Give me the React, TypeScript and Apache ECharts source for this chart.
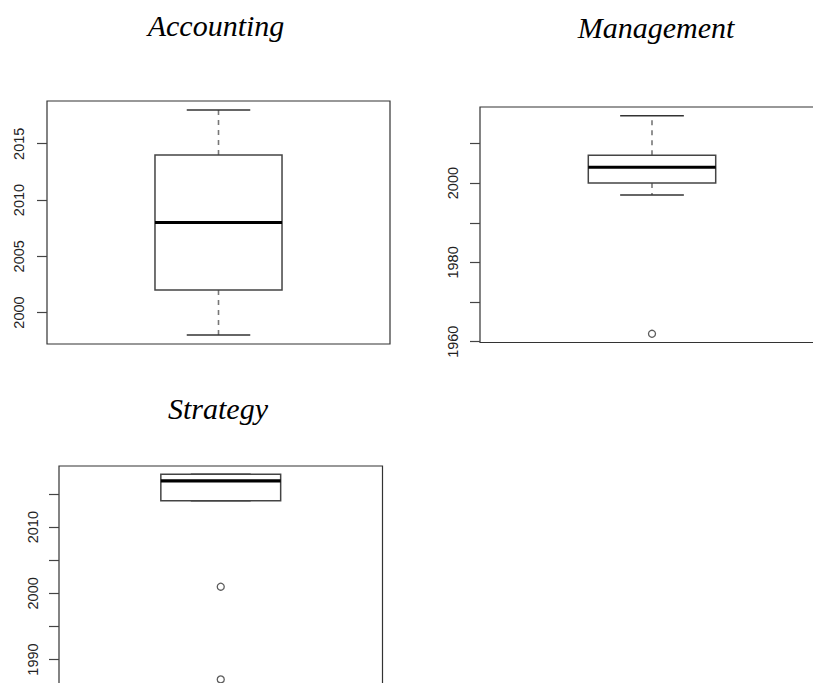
import React, { useEffect, useRef } from 'react';
import * as echarts from 'echarts';

// Panel titles
const panelTitles = ['Accounting', 'Management', 'Strategy'];

// Box statistics: [lower whisker, Q1, median, Q3, upper whisker]
const accountingStats = [1998, 2002, 2008, 2014, 2018];
const managementStats = [1997, 2000, 2004, 2007, 2017];
const strategyStats = [2014, 2014, 2017, 2018, 2018];

// Outliers
const accountingOutliers: number[] = [];
const managementOutliers = [1962];
const strategyOutliers = [2001, 1987];

// Tick marks and tick labels
const accountingTicks = [2000, 2005, 2010, 2015];
const accountingLabels = [2000, 2005, 2010, 2015];
const managementTicks = [1960, 1970, 1980, 1990, 2000, 2010];
const managementLabels = [1960, 1980, 2000];
const strategyTicks = [1990, 1995, 2000, 2005, 2010, 2015];
const strategyLabels = [1990, 2000, 2010];

const panels = [
  { title: panelTitles[0], stats: accountingStats, outliers: accountingOutliers, ticks: accountingTicks, labels: accountingLabels },
  { title: panelTitles[1], stats: managementStats, outliers: managementOutliers, ticks: managementTicks, labels: managementLabels },
  { title: panelTitles[2], stats: strategyStats, outliers: strategyOutliers, ticks: strategyTicks, labels: strategyLabels },
];

// Layout (pixels)
const layout = [
  { left: 47, top: 101, width: 343, height: 243, titleX: 216, titleY: 10, labelMargin: 21 },
  { left: 480, top: 107, width: 344, height: 235.5, titleX: 656, titleY: 12, labelMargin: 20 },
  { left: 59, top: 466, width: 323.5, height: 221.6, titleX: 218, titleY: 393, labelMargin: 19 },
];

export default function App() {
  const ref = useRef<HTMLDivElement>(null);
  useEffect(() => {
    if (!ref.current) return;
    const chart = echarts.init(ref.current, null, { renderer: 'svg' });

    const grids: any[] = [];
    const xAxes: any[] = [];
    const yAxes: any[] = [];
    const series: any[] = [];
    const graphics: any[] = [];

    panels.forEach((p, i) => {
      const L = layout[i];
      const all = [...p.stats, ...p.outliers];
      const lo = Math.min(...all);
      const hi = Math.max(...all);
      const ext = (hi - lo) * 0.04;
      grids.push({
        left: L.left,
        top: L.top,
        width: L.width,
        height: L.height,
        show: true,
        borderColor: '#333',
        borderWidth: 1.2,
        backgroundColor: 'transparent',
        containLabel: false,
      });
      xAxes.push({
        gridIndex: i,
        type: 'value',
        min: 0.46,
        max: 1.54,
        show: false,
      });
      yAxes.push({
        gridIndex: i,
        type: 'value',
        min: lo - ext,
        max: hi + ext,
        axisLine: { show: false },
        splitLine: { show: false },
        axisTick: {
          show: true,
          length: 10,
          customValues: p.ticks,
          lineStyle: { color: '#444', width: 1.2 },
        },
        axisLabel: {
          show: true,
          rotate: 90,
          margin: L.labelMargin,
          customValues: p.labels,
          fontFamily: '"Liberation Sans", Arial, sans-serif',
          fontSize: 14.5,
          color: '#222',
          formatter: (v: number) => String(Math.round(v)),
        },
      });
      series.push({
        type: 'custom',
        xAxisIndex: i,
        yAxisIndex: i,
        silent: true,
        data: [[1, ...p.stats]],
        renderItem: (params: any, api: any) => {
          const x = api.value(0);
          const wLo = api.value(1);
          const q1 = api.value(2);
          const med = api.value(3);
          const q3 = api.value(4);
          const wHi = api.value(5);
          const half = 0.2;
          const cap = 0.1;
          const boxTL = api.coord([x - half, q3]);
          const boxBR = api.coord([x + half, q1]);
          const medL = api.coord([x - half, med]);
          const medR = api.coord([x + half, med]);
          const cQ3 = api.coord([x, q3]);
          const cHi = api.coord([x, wHi]);
          const cQ1 = api.coord([x, q1]);
          const cLo = api.coord([x, wLo]);
          const capHiL = api.coord([x - cap, wHi]);
          const capHiR = api.coord([x + cap, wHi]);
          const capLoL = api.coord([x - cap, wLo]);
          const capLoR = api.coord([x + cap, wLo]);
          const dashStyle = { stroke: '#777', lineWidth: 1.6, lineDash: [5, 5] };
          const capStyle = { stroke: '#333', lineWidth: 1.5 };
          return {
            type: 'group',
            children: [
              { type: 'line', shape: { x1: cQ3[0], y1: cQ3[1], x2: cHi[0], y2: cHi[1] }, style: dashStyle },
              { type: 'line', shape: { x1: cQ1[0], y1: cQ1[1], x2: cLo[0], y2: cLo[1] }, style: dashStyle },
              { type: 'line', shape: { x1: capHiL[0], y1: capHiL[1], x2: capHiR[0], y2: capHiR[1] }, style: capStyle },
              { type: 'line', shape: { x1: capLoL[0], y1: capLoL[1], x2: capLoR[0], y2: capLoR[1] }, style: capStyle },
              {
                type: 'rect',
                shape: { x: boxTL[0], y: boxTL[1], width: boxBR[0] - boxTL[0], height: boxBR[1] - boxTL[1] },
                style: { fill: '#fff', stroke: '#444', lineWidth: 1.5 },
              },
              { type: 'line', shape: { x1: medL[0], y1: medL[1], x2: medR[0], y2: medR[1] }, style: { stroke: '#000', lineWidth: 3.2 } },
            ],
          };
        },
      });
      series.push({
        type: 'scatter',
        xAxisIndex: i,
        yAxisIndex: i,
        silent: true,
        symbol: 'circle',
        symbolSize: 7,
        itemStyle: { color: '#fff', borderColor: '#333', borderWidth: 1.3 },
        data: p.outliers.map((v) => [1, v]),
      });
      graphics.push({
        type: 'text',
        x: L.titleX,
        y: L.titleY,
        style: {
          text: p.title,
          fontFamily: '"Liberation Serif", "Times New Roman", serif',
          fontStyle: 'italic',
          fontSize: 30,
          fill: '#000',
          align: 'center',
          verticalAlign: 'top',
        },
      });
    });

    chart.setOption({
      animation: false,
      backgroundColor: '#fff',
      grid: grids,
      xAxis: xAxes,
      yAxis: yAxes,
      series,
      graphic: graphics,
    });
    return () => chart.dispose();
  }, []);
  return (
    <div
      ref={ref}
      style={{ position: 'fixed', left: 0, top: 0, width: 840, height: 710 }}
    />
  );
}
